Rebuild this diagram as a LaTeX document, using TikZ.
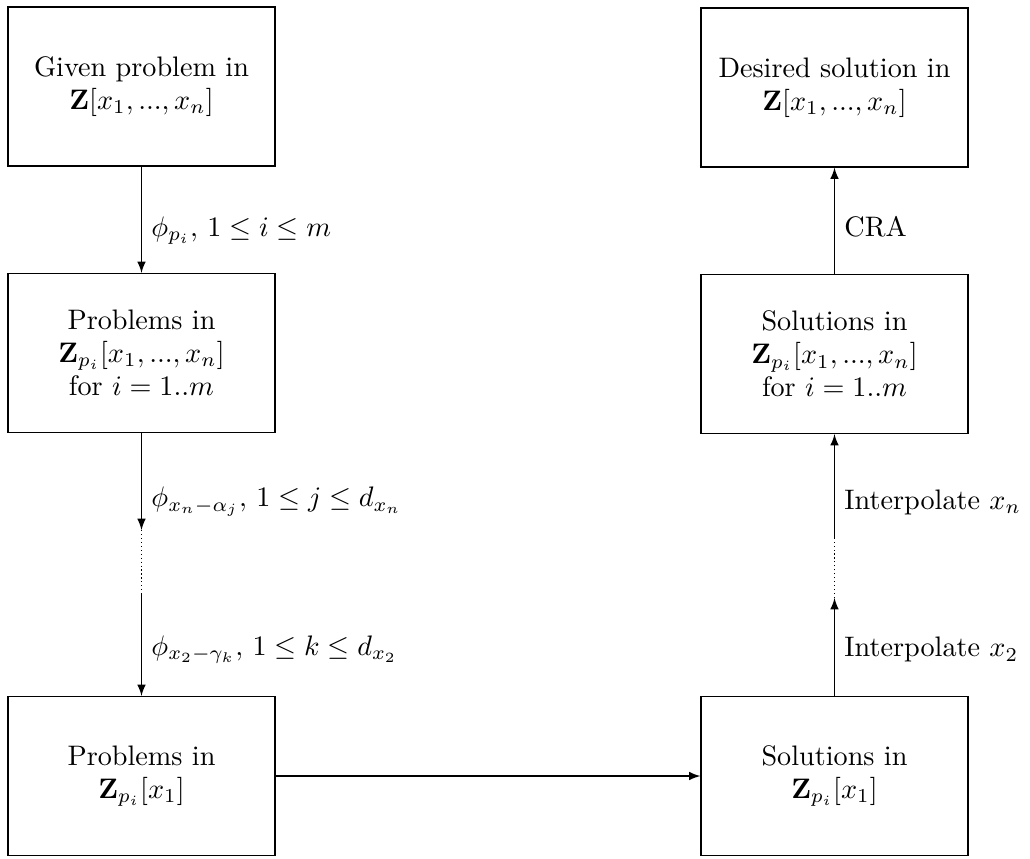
\documentclass[tikz,border=0pt]{standalone}
\usetikzlibrary{arrows}

\begin{document}
\begin{tikzpicture}[>=latex,x=0.3546pt,y=-0.3546pt,
  box/.style={draw,minimum width=94.7pt,minimum height=56.4pt,align=center,inner sep=2pt,font=\fontsize{10}{11.7}\selectfont},
  lbl/.style={right,font=\fontsize{10}{11.7}\selectfont}]
\useasboundingbox (0,0) rectangle (1030,858);
\path
(141.5,86.5) node[box] (g)  {Given problem in\\ $\mathbf{Z}[x_1,...,x_n]$}
(141.5,353)  node[box] (p)  {Problems in\\ $\mathbf{Z}_{p_i}[x_1,...,x_n]$\\ for $i=1..m$}
(141.5,776)  node[box] (pl) {Problems in\\ $\mathbf{Z}_{p_i}[x_1]$}
(834.5,87.5) node[box] (d)  {Desired solution in\\ $\mathbf{Z}[x_1,...,x_n]$}
(834.5,354)  node[box] (s)  {Solutions in\\ $\mathbf{Z}_{p_i}[x_1,...,x_n]$\\ for $i=1..m$}
(834.5,776)  node[box] (sl) {Solutions in\\ $\mathbf{Z}_{p_i}[x_1]$};

% break points of the dotted parts
\coordinate (a1) at (141.5,530);
\coordinate (a2) at (141.5,593);
\coordinate (b1) at (834.5,598);
\coordinate (b2) at (834.5,538);

% left column: going down
\draw[->] (g)--(p) node[lbl,pos=.6]{$\phi_{p_i},\,1 \leq i \leq m$};
\draw[->] (p)--(a1) node[lbl,pos=.71]{$\phi_{x_n-\alpha_j},\,1 \leq j \leq d_{x_n}$};
\draw[densely dotted] (a1)--(a2);
\draw[->] (a2)--(pl) node[lbl,pos=.55]{$\phi_{x_2-\gamma_k},\,1 \leq k \leq d_{x_2}$};

\draw[->] (pl)--(sl);

% right column: going up
\draw[->] (sl)--(b1) node[lbl,pos=.47]{Interpolate $x_2$};
\draw[densely dotted] (b1)--(b2);
\draw[->] (b2)--(s) node[lbl,pos=.34]{Interpolate $x_n$};
\draw[->] (s)--(d) node[lbl,pos=.44]{CRA};
\end{tikzpicture}
\end{document}
